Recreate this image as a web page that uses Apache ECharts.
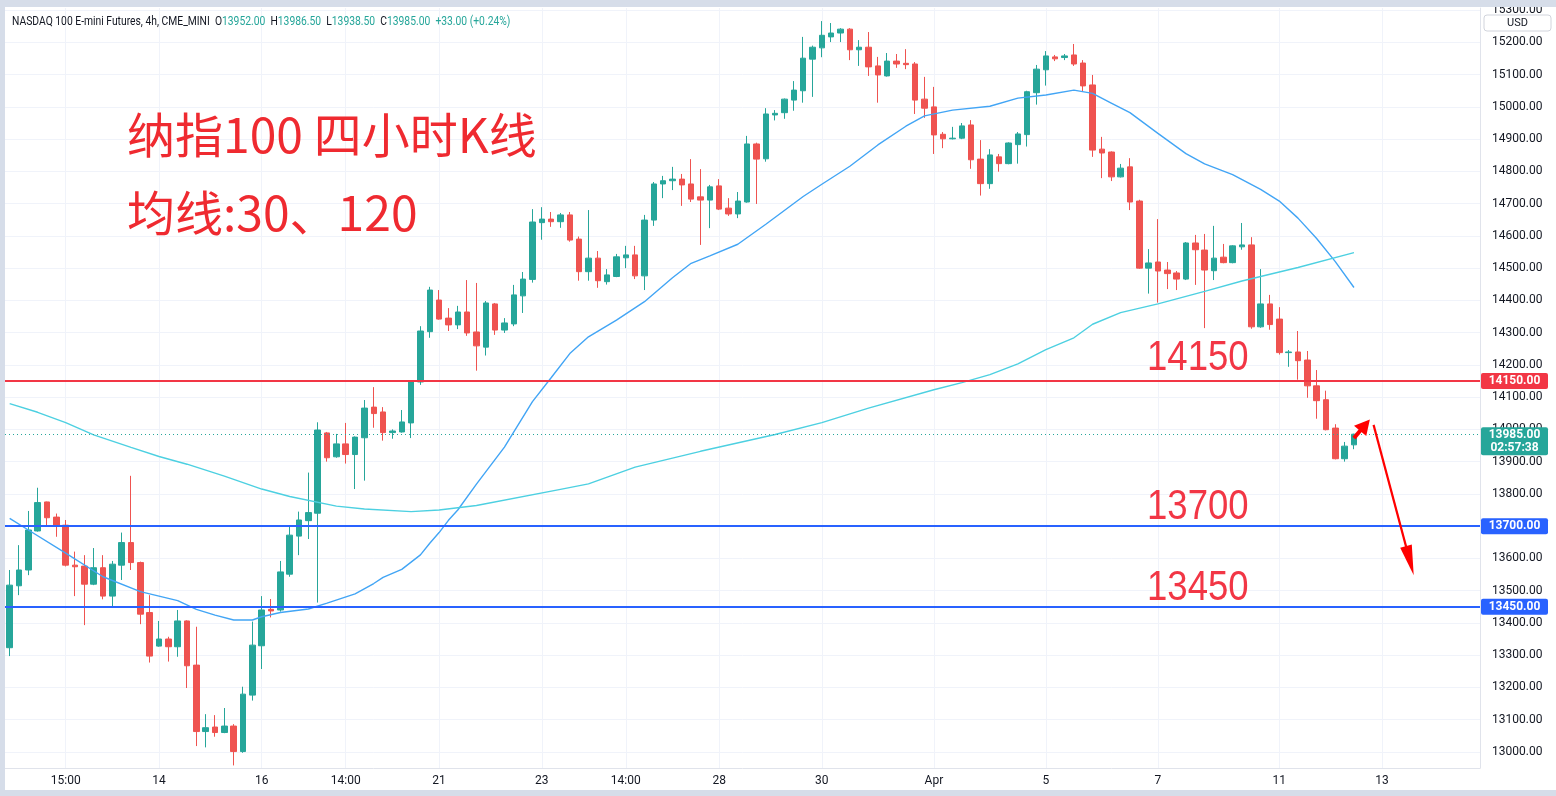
<!DOCTYPE html>
<html><head><meta charset="utf-8">
<script src="https://cdn.jsdelivr.net/npm/echarts/dist/echarts.min.js"></script>
<style>html,body{margin:0;padding:0;background:#d6dde9;}#c{width:1556px;height:796px;}</style>
</head><body><div id="c"></div>
<script>
// ---------- data (4h candles, NQ1!) ----------
const openP = [13323,13515,13564,13685,13775,13728,13703,13579,13576,13520,13571,13483,13579,13649,13587,13432,13328,13350,13326,13406,
13269,13063,13077,13060,13080,13001,13176,13329,13442,13440,13551,13669,13717,13740,13989,13915,13955,13922,13974,14069,
14054,13990,13992,14020,14147,14303,14401,14345,14324,14364,14302,14255,14389,14308,14327,14414,14465,14641,14652,14644,
14665,14590,14489,14531,14458,14474,14532,14541,14476,14649,14761,14771,14776,14761,14721,14711,14755,14686,14668,14705,
14885,14839,14975,14982,15021,15050,15148,15183,15217,15229,15241,15177,15185,15127,15096,15142,15135,15133,15024,15000,
14915,14901,14903,14944,14838,14762,14845,14824,14883,14914,15044,15115,15155,15153,15161,15136,15068,14869,14860,14783,
14814,14708,14500,14519,14494,14485,14466,14578,14556,14492,14534,14517,14566,14572,14318,14389,14342,14238,14240,14215,
14135,14092,14004,13909,13952];
const closeP = [13517,13564,13688,13773,13726,13701,13579,13574,13520,13571,13483,13582,13649,13587,13427,13297,13350,13326,13406,13267,
13063,13075,13060,13080,13001,13179,13331,13440,13437,13558,13672,13719,13742,13998,13912,13955,13922,13976,14066,14049,
13990,13995,14023,14147,14305,14432,14342,14324,14364,14299,14259,14392,14308,14330,14417,14466,14643,14652,14644,14665,
14587,14489,14531,14461,14479,14535,14541,14476,14649,14761,14771,14776,14758,14714,14711,14752,14683,14668,14708,14885,
14838,14978,14980,15024,15052,15151,15185,15222,15229,15241,15177,15185,15124,15099,15142,15133,15131,15021,14996,14913,
14901,14903,14941,14836,14762,14851,14824,14888,14916,15047,15117,15158,15149,15158,15133,15065,14866,14857,14783,14810,
14705,14500,14516,14491,14483,14466,14578,14557,14494,14531,14517,14569,14572,14318,14389,14325,14238,14240,14213,14135,
14089,13999,13909,13948,13985];
const lowP = [13297,13486,13548,13683,13700,13667,13575,13483,13393,13517,13473,13450,13533,13564,13396,13277,13326,13280,13295,13198,
13018,13014,13047,13058,12958,12997,13159,13257,13417,13435,13543,13610,13660,13463,13900,13912,13894,13815,13841,14005,
13965,13971,13990,13973,14138,14284,14340,14305,14311,14290,14182,14229,14293,14299,14320,14361,14455,14588,14628,14625,
14582,14461,14461,14439,14449,14472,14500,14466,14432,14631,14717,14742,14693,14705,14572,14624,14680,14662,14655,14703,
14699,14830,14958,14963,14988,15013,15031,15154,15201,15201,15145,15127,15096,15013,15094,15121,15117,14978,14966,14854,
14872,14899,14900,14808,14725,14746,14799,14822,14824,14877,15007,15066,15142,15145,15127,15049,14845,14779,14770,14781,
14680,14498,14421,14393,14435,14432,14463,14448,14314,14463,14515,14515,14557,14312,14315,14309,14232,14194,14154,14098,
14033,13997,13907,13900,13938.5];
const highP = [13564,13641,13747,13819,13776,13739,13719,13621,13610,13632,13610,13592,13680,13856,13590,13486,13406,13357,13440,13408,
13388,13117,13114,13136,13086,13202,13404,13483,13474,13592,13698,13745,13866,14022,13992,13986,14020,13978,14091,14131,
14069,14000,14060,14150,14320,14442,14432,14376,14383,14463,14454,14398,14392,14345,14448,14488,14683,14689,14674,14671,
14674,14598,14680,14553,14497,14544,14569,14569,14665,14767,14786,14814,14792,14838,14807,14758,14776,14717,14736,14910,
14889,14996,14990,15026,15080,15217,15190,15266,15260,15244,15244,15207,15232,15155,15167,15164,15179,15139,15093,15062,
14922,14938,14950,14959,14897,14869,14854,14890,14922,15050,15130,15173,15161,15164,15195,15145,15099,14907,14862,14823,
14841,14712,14559,14652,14519,14491,14581,14603,14606,14631,14575,14571,14640,14596,14497,14417,14379,14246,14305,14243,
14184,14120,14016,13961,13986.5];
const slotCount = 158;                       // 145 candles + empty space on the right
const tickIndex = [6,16,27,36,46,57,66,76,87,99,111,123,136,147];
const tickText  = ['15:00','14','16','14:00','21','23','14:00','28','30','Apr','5','7','11','13'];
const priceTicks = [13000,13100,13200,13300,13400,13500,13600,13700,13800,13900,14000,14100,
                    14200,14300,14400,14500,14600,14700,14800,14900,15000,15100,15200,15300];
const ma30 = [[0,13724],[2,13688],[6,13616],[10,13543],[14,13497],[18,13469],[20,13442],[22,13424],[24,13409],[26,13409],
[27,13419],[29,13432],[32,13443],[34,13461],[37,13490],[39,13522],[40,13541],[42,13566],[44,13611],[45,13647],[46,13680],
[47,13718],[48,13750],[50,13830],[53,13945],[56,14086],[58,14160],[60,14235],[62,14287],[65,14339],[68,14396],[71,14470],
[73,14515],[75,14538],[78,14574],[81,14636],[85,14722],[87,14760],[90,14816],[93,14882],[96,14940],[98,14972],[101,14990],
[105,15002],[108,15027],[111,15037],[114,15052],[116,15042],[118,15012],[120,14982],[123,14918],[126,14855],[128,14823],
[131,14790],[134,14744],[136,14708],[138,14655],[140,14592],[142,14520],[144,14440]];
const ma120 = [[0,14080],[3,14053],[6,14021],[9,13983],[13,13944],[16,13916],[19,13892],[23,13855],[27,13815],[30,13792],
[35,13762],[38,13753],[43,13745],[46,13750],[50,13764],[59,13814],[62,13831],[67,13883],[74,13932],[82,13984],[87,14021],
[92,14066],[99,14123],[102,14145],[105,14170],[108,14203],[111,14247],[114,14284],[116,14326],[119,14362],[123,14389],
[128,14428],[132,14460],[138,14502],[144,14548]];
const redLevel = 14150;
const blueLevels = [13700, 13450];
const lastPrice = 13985;
const countdown = '02:57:38';
// ---------------------------------------------------------------------

const UP = '#26a69a', DOWN = '#ef5350', RED = '#f23645', BLUE = '#2962ff';
const FONT = 'Roboto, "Liberation Sans", sans-serif';
const chart = echarts.init(document.getElementById('c'));
const cats = Array.from({length: slotCount}, (_, i) => String(i));
const candles = openP.map((o, i) => [o, closeP[i], lowP[i], highP[i]]);
const gridMarks = priceTicks.map(p => ({yAxis: p})).concat(tickIndex.map(i => ({xAxis: i})));

chart.setOption({
  animation: false,
  backgroundColor: '#ffffff',
  grid: {left: 5, right: 76, top: 8, bottom: 28, outerBoundsMode: 'none', containLabel: false},
  xAxis: {
    type: 'category', data: cats, boundaryGap: true,
    axisLine: {show: true, lineStyle: {color: '#e0e3eb'}},
    axisTick: {show: false}, splitLine: {show: false},
    axisLabel: {
      interval: (i) => tickIndex.includes(i),
      formatter: (v, i) => { const k = tickIndex.indexOf(i); return k >= 0 ? tickText[k] : ''; },
      color: '#131722', fontSize: 12, margin: 7, fontFamily: FONT
    }
  },
  yAxis: {
    type: 'value', position: 'right', min: 12950, max: 15306.6, interval: 50,
    splitLine: {show: false}, axisTick: {show: false},
    axisLine: {show: true, lineStyle: {color: '#e0e3eb'}},
    axisLabel: {
      formatter: (v) => Math.abs(v / 100 - Math.round(v / 100)) < 1e-6 ? v.toFixed(2) : '',
      color: '#131722', fontSize: 12, margin: 12, fontFamily: FONT
    }
  },
  series: [
    {type: 'line', data: [], z: 1, silent: true,
     markLine: {z: 1, silent: true, symbol: ['none', 'none'], label: {show: false}, animation: false,
       lineStyle: {color: '#f0f3fa', width: 1, type: 'solid'}, emphasis: {disabled: true}, data: gridMarks}},
    {type: 'candlestick', z: 3, barWidth: 6, data: candles, silent: true,
     itemStyle: {color: UP, color0: DOWN, borderColor: UP, borderColor0: DOWN, borderWidth: 1}},
    {type: 'line', data: ma30, z: 4, symbol: 'none', silent: true, lineStyle: {color: '#42a5f5', width: 1.4}},
    {type: 'line', data: ma120, z: 4, symbol: 'none', silent: true, lineStyle: {color: '#4dd0e1', width: 1.4}},
    {type: 'line', data: [], z: 5, silent: true,
     markLine: {silent: true, symbol: ['none', 'none'], label: {show: false}, animation: false, emphasis: {disabled: true},
       data: [
         {yAxis: lastPrice, lineStyle: {color: UP, width: 1, type: [1, 3]}},
         {yAxis: redLevel, lineStyle: {color: RED, width: 2, type: 'solid'}},
         {yAxis: blueLevels[0], lineStyle: {color: BLUE, width: 2, type: 'solid'}},
         {yAxis: blueLevels[1], lineStyle: {color: BLUE, width: 2, type: 'solid'}}
       ]}}
  ]
});

function toPx(idx, price) {
  const i0 = Math.floor(idx), f = idx - i0;
  const a = chart.convertToPixel({xAxisIndex: 0}, i0);
  const b = chart.convertToPixel({xAxisIndex: 0}, i0 + 1);
  return [a + (b - a) * f, chart.convertToPixel({yAxisIndex: 0}, price)];
}
function arrow(p0, p1, lineW, headLen, headHalf, color, z) {
  const dx = p1[0] - p0[0], dy = p1[1] - p0[1], L = Math.hypot(dx, dy);
  const ux = dx / L, uy = dy / L, nx = -uy, ny = ux;
  const bx = p1[0] - ux * headLen, by = p1[1] - uy * headLen;
  return [
    {type: 'line', z: z, shape: {x1: p0[0], y1: p0[1], x2: bx + ux * 2, y2: by + uy * 2}, style: {stroke: color, lineWidth: lineW}},
    {type: 'polygon', z: z, shape: {points: [[p1[0], p1[1]], [bx + nx * headHalf, by + ny * headHalf], [bx - nx * headHalf, by - ny * headHalf]]}, style: {fill: color}}
  ];
}

const g = [];
// price-scale tags
const tagX = 1481, tagW = 67;
function tag(price, color, lines) {
  const y = chart.convertToPixel({yAxisIndex: 0}, price);
  const h = lines.length === 1 ? 16 : 28;
  const top = lines.length === 1 ? y - 8 : y - 7;
  g.push({type: 'rect', z: 20, shape: {x: tagX, y: top, width: tagW, height: h, r: 2}, style: {fill: color}});
  lines.forEach((t, k) => g.push({type: 'text', z: 21, x: tagX + tagW / 2, y: top + 8 + k * 13,
    style: {text: t, fill: '#ffffff', font: 'bold 12px ' + FONT, align: 'center', verticalAlign: 'middle'}}));
}
tag(redLevel, RED, [redLevel.toFixed(2)]);
tag(blueLevels[0], BLUE, [blueLevels[0].toFixed(2)]);
tag(blueLevels[1], BLUE, [blueLevels[1].toFixed(2)]);
tag(lastPrice, UP, [lastPrice.toFixed(2), countdown]);

// drawings: texts
const TXT = '#ef2a30';
g.push({type: 'text', z: 10, x: 127, y: 135, style: {text: '纳指100 四小时K线', fill: TXT, font: '48px "Noto Sans CJK SC"', align: 'left', verticalAlign: 'middle'}});
g.push({type: 'text', z: 10, x: 127, y: 213, style: {text: '均线:30、120', fill: TXT, font: '48px "Noto Sans CJK SC"', align: 'left', verticalAlign: 'middle'}});
[[redLevel, 358], [blueLevels[0], 507], [blueLevels[1], 588]].forEach(([v, yy]) => {
  g.push({type: 'text', z: 10, x: 1147, y: yy, scaleX: 0.87, style: {text: String(v), fill: RED, font: '42px "Liberation Sans"', align: 'left', verticalAlign: 'middle'}});
});
// drawings: arrows (anchored in time/price)
g.push(...arrow(toPx(144.0, 13973), toPx(145.7, 14031), 4, 15, 8, '#ff0000', 10));
g.push(...arrow(toPx(146.1, 14014), toPx(150.4, 13548), 2.2, 30, 6, '#ff0000', 10));

// header legend
const n = openP.length - 1;
const chg = closeP[n] - openP[n];
const pct = chg / openP[n] * 100;
const f2 = (v) => v.toFixed(2);
g.push({type: 'text', z: 30, x: 12, y: 22, scaleX: 0.86, style: {
  text: '{t|NASDAQ 100 E-mini Futures, 4h, CME_MINI}  {k|O}{v|' + f2(openP[n]) + '}  {k|H}{v|' + f2(highP[n]) + '}  {k|L}{v|' + f2(lowP[n]) +
        '}  {k|C}{v|' + f2(closeP[n]) + '}  {v|' + (chg >= 0 ? '+' : '') + f2(chg) + ' (' + (chg >= 0 ? '+' : '') + pct.toFixed(2) + '%)}',
  verticalAlign: 'middle', align: 'left', font: '12px ' + FONT,
  rich: {t: {fill: '#131722', font: '12px ' + FONT}, k: {fill: '#131722', font: '12px ' + FONT}, v: {fill: UP, font: '12px ' + FONT}}
}});

// frame and currency box
const FR = '#d6dde9';
g.push({type: 'rect', z: 100, shape: {x: 0, y: 0, width: 1556, height: 7}, style: {fill: FR}});
g.push({type: 'rect', z: 100, shape: {x: 0, y: 0, width: 5, height: 796}, style: {fill: FR}});
g.push({type: 'rect', z: 100, shape: {x: 0, y: 790, width: 1556, height: 6}, style: {fill: FR}});
g.push({type: 'rect', z: 100, shape: {x: 1484, y: 15, width: 67, height: 16, r: 3}, style: {fill: '#ffffff', stroke: '#d1d4dc', lineWidth: 1}});
g.push({type: 'text', z: 101, x: 1517.5, y: 23, style: {text: 'USD', fill: '#131722', font: '11px ' + FONT, align: 'center', verticalAlign: 'middle'}});

chart.setOption({graphic: g});
</script></body></html>
